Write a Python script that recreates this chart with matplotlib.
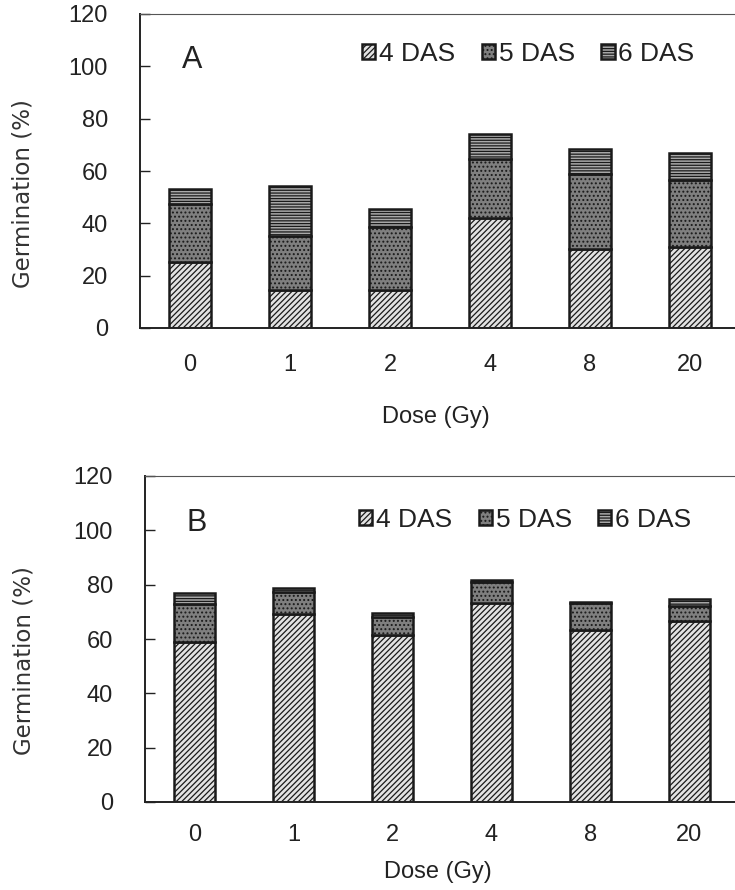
import matplotlib
matplotlib.use("Agg")
import matplotlib.pyplot as plt
import numpy as np

plt.rcParams['font.family'] = ['Liberation Sans', 'DejaVu Sans']
plt.rcParams['hatch.linewidth'] = 0.9

# categories
doses = ["0", "1", "2", "4", "8", "20"]
series_names = ["4 DAS", "5 DAS", "6 DAS"]

# panel A (germination % per day, stacked)
a_4das = [25.4, 14.6, 14.6, 41.9, 30.2, 31.1]
a_5das = [22.0, 20.7, 24.0, 22.8, 28.5, 25.5]
a_6das = [5.9, 19.1, 7.0, 9.3, 9.6, 10.2]

# panel B
b_4das = [59.0, 69.2, 61.5, 73.3, 63.4, 66.5]
b_5das = [14.0, 8.2, 6.5, 7.7, 9.9, 5.8]
b_6das = [4.0, 1.4, 1.5, 0.8, 0.5, 2.5]

# styles for each series
faces = ["#e2e2e2", "#7f7f7f", "#a9a9a9"]
hatches = ["//////", "....", "------"]

W, H = 735, 890
fig = plt.figure(figsize=(W / 100, H / 100), dpi=100)


def draw_panel(rect, letter, data, xpad, xl_y, leg_pos, let_pos, ylab_y):
    ax = fig.add_axes(rect)
    x = np.arange(len(doses))
    bottom = np.zeros(len(doses))
    handles = []
    for vals, fc, ht, name in zip(data, faces, hatches, series_names):
        b = ax.bar(x, vals, width=0.42, bottom=bottom, color=fc, hatch=ht,
                   edgecolor="#1a1a1a", linewidth=1.8, label=name)
        handles.append(b)
        bottom = bottom + np.array(vals)
    ax.set_ylim(0, 120)
    ax.set_yticks(np.arange(0, 121, 20))
    ax.set_xlim(-0.5, 5.5)
    ax.set_xticks(x)
    ax.set_xticklabels(doses)
    ax.tick_params(axis="y", direction="in", length=7, width=1, pad=23, labelsize=17, colors="#222222")
    ax.tick_params(axis="x", length=0, pad=xpad, labelsize=17, colors="#222222")
    for s in ["left", "bottom"]:
        ax.spines[s].set_linewidth(1.4)
        ax.spines[s].set_color("#222222")
    ax.spines["top"].set_linewidth(0.8)
    ax.spines["top"].set_color("#555555")
    ax.spines["right"].set_visible(False)
    ax.set_ylabel("Germination (%)", fontsize=16.5, color="#333333",
                  family=["DejaVu Sans"])
    ax.yaxis.set_label_coords(-(rect[0] * W - 35) / (rect[2] * W), ylab_y)
    ax.text(let_pos[0], let_pos[1], letter, transform=ax.transAxes, fontsize=22,
            ha="center", va="center", color="#222222")
    ax.legend(handles=handles, ncol=3, frameon=False, loc="center left",
              bbox_to_anchor=leg_pos, fontsize=19, handlelength=0.5,
              handleheight=0.5, handletextpad=0.15, columnspacing=1.0,
              borderaxespad=0, borderpad=0, labelcolor="#222222")
    fig.text(rect[0] + rect[2] * 0.5 - 0.005, xl_y, "Dose (Gy)",
             fontsize=17, ha="center", va="center", color="#222222")
    return ax


draw_panel([140 / W, 1 - 328 / H, 600 / W, 314 / H], "A",
           [a_4das, a_5das, a_6das], 19, 1 - 417 / H, (0.37, 0.872), (0.087, 0.855), 0.427)
draw_panel([145 / W, 1 - 802 / H, 594 / W, 326 / H], "B",
           [b_4das, b_5das, b_6das], 16, 1 - 872 / H, (0.36, 0.866), (0.087, 0.855), 0.433)

fig.savefig("out.png", dpi=100)
